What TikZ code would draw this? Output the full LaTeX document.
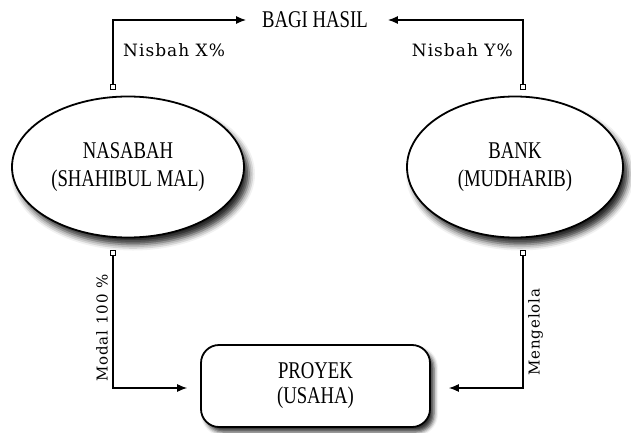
\documentclass[tikz,border=0pt]{standalone}
\usepackage{fontspec}
\setmainfont{Liberation Serif}
\newfontfamily\headfont[FakeStretch=0.78]{Liberation Serif}
\newfontfamily\linkfont[LetterSpace=6]{DejaVu Serif}
\usetikzlibrary{arrows.meta,positioning,shapes.geometric,shadows.blur}
\tikzset{%
	party/.style   = {draw, line width=1.8pt, ellipse, fill=white, inner sep=0pt, align=center,
	                  font=\headfont\fontsize{24}{28}\selectfont,
	                  blur shadow={shadow xshift=5pt, shadow yshift=-7pt, shadow blur radius=6pt, shadow opacity=85}},
	project/.style = {draw, line width=1.8pt, rectangle, rounded corners=18pt, fill=white, align=center,
	                  minimum width=229pt, minimum height=82pt,
	                  font=\headfont\fontsize{24}{25}\selectfont,
	                  blur shadow={shadow xshift=4pt, shadow yshift=-5pt, shadow blur radius=4pt, shadow opacity=80}},
	title/.style   = {font=\headfont\fontsize{24}{26}\selectfont, inner sep=0pt},
	pinbox/.style  = {draw, rectangle, fill=white, line width=0.8pt, inner sep=0pt, minimum size=5pt},
	link/.style    = {line width=1.1pt, -{Latex[length=10pt,width=8pt]}},
	linklabel/.style = {font=\linkfont\fontsize{17}{19}\selectfont, inner sep=0pt},
	sidelabel/.style = {font=\linkfont\fontsize{15}{17}\selectfont, inner sep=0pt, rotate=90},
}
\begin{document}
\begin{tikzpicture}[x=1pt,y=-1pt]
	\useasboundingbox (0,0) rectangle (631,433);
	\node [title] (bagi) at (315,20) {BAGI HASIL};
	\node [party, minimum width=232pt, minimum height=141pt] (nasabah) at (128,167) {NASABAH\\(SHAHIBUL MAL)};
	\node [party, minimum width=216pt, minimum height=141pt] (bank) at (515,167) {BANK\\(MUDHARIB)};
	\node [project] (proyek) at (315.5,386) {PROYEK\\(USAHA)};
	
	% kotak kecil pada ujung garis
	\node [pinbox] (nasTop) at (113,87) {};
	\node [pinbox] (bankTop) at (523,87) {};
	\node [pinbox] (nasBot) at (113,253) {};
	\node [pinbox] (bankBot) at (523,253) {};
	
	\draw[link] (nasTop) |- ([xshift=-16pt]bagi.west);
	\draw[link] (bankTop) |- ([xshift=20pt]bagi.east);
	\draw[link] (nasBot) |- ([xshift=-13pt,yshift=-2pt]proyek.west);
	\draw[link] (bankBot) |- ([xshift=18pt,yshift=-2pt]proyek.east);
	
	\node [linklabel, anchor=base west] (nisbahX) at (123,57) {Nisbah X\%};
	\node [linklabel, anchor=base east] (nisbahY) at (513,57) {Nisbah Y\%};
	\node [sidelabel, anchor=south west] (modal) at (108,382) {Modal 100 \%};
	\node [sidelabel, anchor=north west] (kelola) at (528,376) {Mengelola};
\end{tikzpicture}
\end{document}
